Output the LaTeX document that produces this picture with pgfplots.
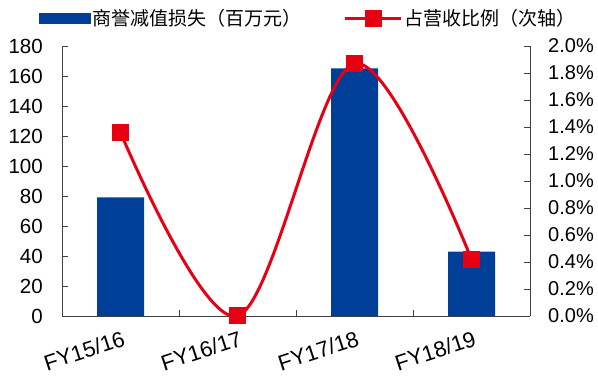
\documentclass[border=0pt]{standalone}
\usepackage{pgfplots}
\pgfplotsset{compat=1.18}
\usepackage{fontspec}
\setmainfont{Liberation Sans}
\newfontfamily\cjk{Noto Sans CJK SC}
\definecolor{barblue}{RGB}{0,63,152}
\definecolor{linered}{RGB}{230,0,18}
\definecolor{axisgray}{RGB}{64,64,64}
\begin{document}
\begin{tikzpicture}[x=1pt,y=1pt]
\path[use as bounding box] (0,0) rectangle (598,378);
\begin{axis}[
  at={(62pt,62pt)}, anchor=south west,
  scale only axis, width=468pt, height=270pt,
  xmin=-0.5, xmax=3.5, ymin=0, ymax=180,
  ytick={0,20,40,60,80,100,120,140,160,180},
  xtick={0,1,2,3}, xticklabels={FY15/16,FY16/17,FY17/18,FY18/19},
  minor xtick={0.5,1.5,2.5},
  major x tick style={draw=none},
  minor tick length=6pt, major tick length=6pt,
  tick align=inside,
  axis x line*=bottom, axis y line*=left,
  axis line style={axisgray, line width=0.8pt},
  tick style={axisgray, line width=0.8pt},
  /pgf/number format/assume math mode=true,
  yticklabel style={inner sep=0pt, anchor=east, font=\fontsize{20.5}{20.5}\selectfont},
  yticklabel shift=19pt,
  xticklabel style={inner sep=0pt, xshift=1pt, rotate=18, anchor=north east, font=\fontsize{22}{22}\selectfont},
  xticklabel shift=14pt,
  clip=false,
]
\addplot[ybar, bar width=47pt, fill=barblue, draw=none] coordinates {(0,79) (1,0) (2,165) (3,43)};
\end{axis}
\begin{axis}[
  at={(62pt,62pt)}, anchor=south west,
  scale only axis, width=468pt, height=270pt,
  xmin=-0.5, xmax=3.5, ymin=0, ymax=2,
  ytick={0,0.2,0.4,0.6,0.8,1.0,1.2,1.4,1.6,1.8,2.0},
  yticklabel={\pgfmathprintnumber[fixed,fixed zerofill,precision=1]{\tick}\%},
  axis x line=none, axis y line*=right,
  tick align=inside, major tick length=6pt,
  axis line style={axisgray, line width=0.8pt},
  tick style={axisgray, line width=0.8pt},
  /pgf/number format/assume math mode=true,
  yticklabel style={inner sep=0pt, anchor=west, font=\fontsize{20}{20}\selectfont},
  yticklabel shift=18pt,
  clip=false,
  legend columns=2,
  legend style={draw=none, fill=none, at={(0.527,1.1037)}, anchor=center,
    font=\cjk\fontsize{19}{19}\selectfont,
    nodes={inner sep=2pt},
    /tikz/every even column/.append style={column sep=40pt}},
]
\addlegendimage{legend image code/.code={\fill[barblue] (0pt,-5pt) rectangle (51pt,5pt);}}
\addlegendentry{商誉减值损失（百万元）}
\addplot[linered, line width=3pt, smooth, tension=0.55, mark=square*, mark size=7pt,
  mark options={fill=linered, draw=none},
  legend image code/.code={\draw[linered, line width=3pt] (0pt,0pt) -- (56pt,0pt); \fill[linered] (21pt,-7pt) rectangle (35pt,7pt);}]
  coordinates {(0,1.36) (1,0) (2,1.87) (3,0.42)};
\addlegendentry{占营收比例（次轴）}
\end{axis}
\end{tikzpicture}
\end{document}
